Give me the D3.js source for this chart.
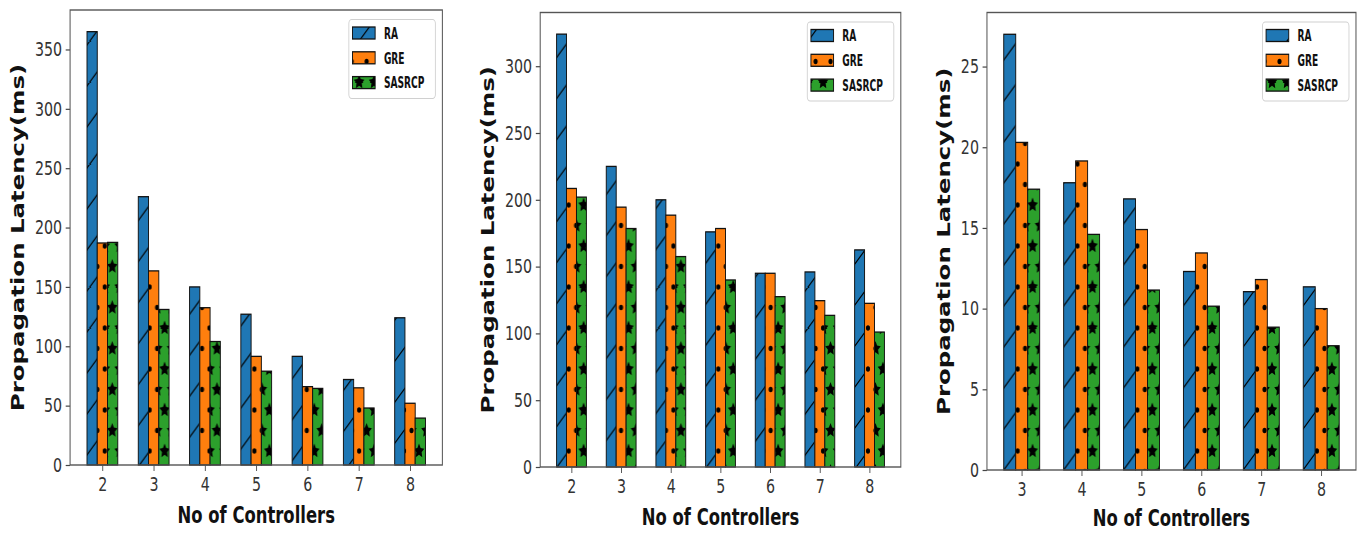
<!DOCTYPE html>
<html>
<head>
<meta charset="utf-8">
<script src="https://cdn.jsdelivr.net/npm/d3@7"></script>
<style>
  body { margin: 0; background: #fff; }
  svg { display: block; }
</style>
</head>
<body>
<div id="chart"></div>
<script>
const series = ['RA', 'GRE', 'SASRCP'];

// left panel
const controllersA = [2, 3, 4, 5, 6, 7, 8];
const raA = [365, 226, 150, 127, 91.5, 72, 124];
const greA = [187, 163.5, 132.5, 91.5, 66, 65, 52];
const sasA = [187.5, 131, 104, 79, 64.5, 48, 39.5];
const ticksA = [0, 50, 100, 150, 200, 250, 300, 350];

// middle panel
const controllersB = [2, 3, 4, 5, 6, 7, 8];
const raB = [324, 225, 200, 176, 145, 146, 162.5];
const greB = [208.5, 194.5, 188.5, 178.5, 145, 124.5, 122.5];
const sasB = [202, 178.5, 157.5, 140, 127.5, 113.5, 101];
const ticksB = [0, 50, 100, 150, 200, 250, 300];

// right panel
const controllersC = [3, 4, 5, 6, 7, 8];
const raC = [27, 17.8, 16.8, 12.3, 11.05, 11.35];
const greC = [20.3, 19.15, 14.9, 13.45, 11.8, 10.0];
const sasC = [17.4, 14.6, 11.15, 10.15, 8.85, 7.7];
const ticksC = [0, 5, 10, 15, 20, 25];

const width = 1359;
const height = 533;
// the whole figure looks squeezed sideways, so draw wide and scale x down
const squeeze = 0.73;

const colors = ['#1f77b4', '#ff7f0e', '#2ca02c'];
const font = 'DejaVu Sans, sans-serif';
const barW = 0.2;

const panels = [
  { cats: controllersA, vals: [raA, greA, sasA], ticks: ticksA, left: 96, right: 606, top: 10, bottom: 465, xlab: 523 },
  { cats: controllersB, vals: [raB, greB, sasB], ticks: ticksB, left: 740, right: 1234, top: 12.5, bottom: 467, xlab: 525 },
  { cats: controllersC, vals: [raC, greC, sasC], ticks: ticksC, left: 1352, right: 1857.5, top: 12.5, bottom: 470, xlab: 526 },
];

const svg = d3.select('#chart')
  .append('svg')
  .attr('width', width)
  .attr('height', height);

// hatch patterns: '/', '..', '**'
const defs = svg.append('defs');
const cell = 41;
const row = cell / 2;

function starPath(cx, cy, r) {
  const pts = [];
  for (let i = 0; i < 10; i++) {
    const rr = i % 2 === 0 ? r : r * 0.5;
    const a = -Math.PI / 2 + i * Math.PI / 5;
    pts.push([cx + rr * Math.cos(a), cy + rr * Math.sin(a)]);
  }
  return 'M' + pts.map(p => p.join(',')).join('L') + 'Z';
}

const slash = defs.append('pattern')
  .attr('id', 'hatch0')
  .attr('patternUnits', 'userSpaceOnUse')
  .attr('width', cell).attr('height', cell);
slash.append('rect').attr('width', cell).attr('height', cell).attr('fill', colors[0]);
slash.append('path')
  .attr('d', `M0,${cell}L${cell},0M${-cell / 4},${cell / 4}L${cell / 4},${-cell / 4}M${cell * 3 / 4},${cell * 5 / 4}L${cell * 5 / 4},${cell * 3 / 4}`)
  .attr('stroke', '#000')
  .attr('stroke-width', 1.4);

const spots = [[0, 0], [row, 0], [0, cell], [row, cell], [row / 2, row]];

const dots = defs.append('pattern')
  .attr('id', 'hatch1')
  .attr('patternUnits', 'userSpaceOnUse')
  .attr('width', row).attr('height', cell);
dots.append('rect').attr('width', row).attr('height', cell).attr('fill', colors[1]);
dots.selectAll('circle')
  .data(spots)
  .enter()
  .append('circle')
  .attr('cx', d => d[0])
  .attr('cy', d => d[1])
  .attr('r', 2.8)
  .attr('fill', '#000');

const stars = defs.append('pattern')
  .attr('id', 'hatch2')
  .attr('patternUnits', 'userSpaceOnUse')
  .attr('width', row).attr('height', cell);
stars.append('rect').attr('width', row).attr('height', cell).attr('fill', colors[2]);
stars.selectAll('path')
  .data(spots)
  .enter()
  .append('path')
  .attr('d', d => starPath(d[0], d[1], 7.6))
  .attr('fill', '#000');

const root = svg.append('g').attr('transform', `scale(${squeeze},1)`);

panels.forEach(p => {
  const g = root.append('g');

  const first = p.cats[0] - 0.3;
  const last = p.cats[p.cats.length - 1] + 0.3;
  const pad = (last - first) * 0.05;
  const x = d3.scaleLinear()
    .domain([first - pad, last + pad])
    .range([p.left, p.right]);

  const ymax = d3.max(p.vals, v => d3.max(v)) * 1.05;
  const y = d3.scaleLinear()
    .domain([0, ymax])
    .range([p.bottom, p.top]);

  const bars = [];
  p.vals.forEach((vals, s) => {
    vals.forEach((v, i) => {
      bars.push({ s: s, cat: p.cats[i], value: v });
    });
  });

  g.append('g')
    .selectAll('rect')
    .data(bars)
    .enter()
    .append('rect')
    .attr('x', d => x(d.cat + (d.s - 1) * barW - barW / 2))
    .attr('y', d => y(d.value))
    .attr('width', d => x(d.cat + barW / 2) - x(d.cat - barW / 2))
    .attr('height', d => y(0) - y(d.value))
    .attr('fill', d => `url(#hatch${d.s})`)
    .attr('stroke', '#111')
    .attr('stroke-width', 1.3);

  const xAxis = g.append('g')
    .attr('transform', `translate(0,${p.bottom})`)
    .call(d3.axisBottom(x).tickValues(p.cats).tickSize(6).tickPadding(6).tickFormat(d3.format('d')));

  const yAxis = g.append('g')
    .attr('transform', `translate(${p.left},0)`)
    .call(d3.axisLeft(y).tickValues(p.ticks).tickSize(6).tickPadding(5).tickFormat(d3.format('d')));

  [xAxis, yAxis].forEach(a => {
    a.select('.domain').remove();
    a.selectAll('line').attr('stroke', '#444').attr('stroke-width', 1.2);
    a.selectAll('text')
      .attr('font-family', font)
      .attr('font-size', 19.5)
      .attr('fill', '#333');
  });

  g.append('rect')
    .attr('x', p.left)
    .attr('y', p.top)
    .attr('width', p.right - p.left)
    .attr('height', p.bottom - p.top)
    .attr('fill', 'none')
    .attr('stroke', '#555')
    .attr('stroke-width', 1.4);

  const tickLeft = p.left + yAxis.node().getBBox().x;
  g.append('text')
    .attr('transform', `translate(${tickLeft - 15},${(p.top + p.bottom) / 2}) rotate(-90)`)
    .attr('text-anchor', 'middle')
    .attr('font-family', font)
    .attr('font-weight', 'bold')
    .attr('font-size', 24.4)
    .attr('fill', '#111')
    .text('Propagation Latency(ms)');

  g.append('text')
    .attr('x', (p.left + p.right) / 2)
    .attr('y', p.xlab)
    .attr('text-anchor', 'middle')
    .attr('font-family', font)
    .attr('font-weight', 'bold')
    .attr('font-size', 22.5)
    .attr('fill', '#111')
    .text('No of Controllers');

  // legend
  const legend = g.append('g');
  const box = legend.append('rect')
    .attr('y', p.top + 9.5)
    .attr('height', 79)
    .attr('rx', 4)
    .attr('fill', '#fff')
    .attr('fill-opacity', 0.85)
    .attr('stroke', '#d0d0d0')
    .attr('stroke-width', 1.2);

  const items = legend.selectAll('g.item')
    .data(series)
    .enter()
    .append('g')
    .attr('class', 'item');

  items.append('rect')
    .attr('y', (d, i) => p.top + 9.5 + 7.5 + i * 24.8)
    .attr('width', 31)
    .attr('height', 12)
    .attr('fill', (d, i) => `url(#hatch${i})`)
    .attr('stroke', '#111')
    .attr('stroke-width', 1.3);

  items.append('text')
    .attr('y', (d, i) => p.top + 9.5 + 13.5 + i * 24.8)
    .attr('dy', '0.36em')
    .attr('font-family', font)
    .attr('font-weight', 'bold')
    .attr('font-size', 16)
    .attr('fill', '#111')
    .text(d => d);

  // the legend lettering is narrow in the source
  items.select('text').each(function () {
    const w = this.getComputedTextLength();
    d3.select(this).attr('textLength', w * 0.78).attr('lengthAdjust', 'spacingAndGlyphs');
  });

  const textW = d3.max(items.selectAll('text').nodes(), n => +n.getAttribute('textLength'));
  const boxW = 48 + textW + 15;
  const boxX = p.right - 9.6 - boxW;
  box.attr('x', boxX).attr('width', boxW);
  items.select('rect').attr('x', boxX + 5);
  items.select('text').attr('x', boxX + 48);
});
</script>
</body>
</html>
